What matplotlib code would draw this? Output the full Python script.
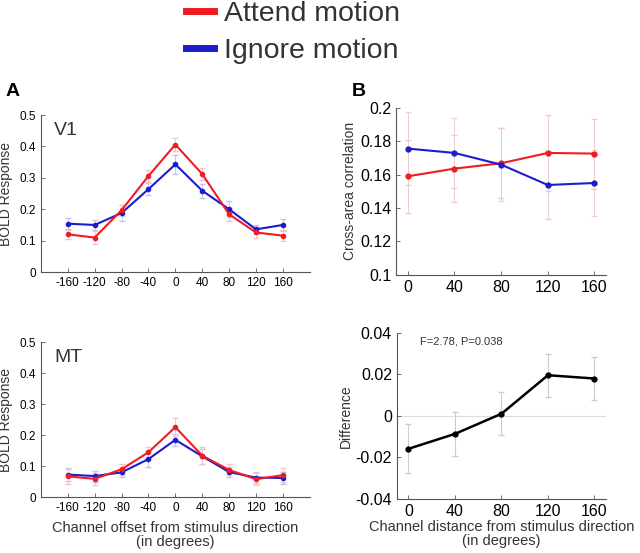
import numpy as np
import matplotlib.pyplot as plt
from matplotlib.lines import Line2D

plt.rcParams['font.family'] = ['Liberation Sans', 'DejaVu Sans']
plt.rcParams['axes.unicode_minus'] = False

# -------------------
# data
# -------------------
offsets = [-160, -120, -80, -40, 0, 40, 80, 120, 160]
v1_attend = [0.120, 0.110, 0.197, 0.306, 0.406, 0.312, 0.184, 0.126, 0.116]
v1_ignore = [0.154, 0.150, 0.188, 0.264, 0.343, 0.259, 0.200, 0.136, 0.150]
v1_attend_err = [0.015, 0.020, 0.018, 0.018, 0.020, 0.018, 0.020, 0.018, 0.018]
v1_ignore_err = [0.018, 0.015, 0.025, 0.018, 0.030, 0.022, 0.025, 0.015, 0.020]

mt_attend = [0.067, 0.059, 0.090, 0.145, 0.226, 0.134, 0.088, 0.058, 0.071]
mt_ignore = [0.073, 0.068, 0.080, 0.123, 0.185, 0.132, 0.081, 0.063, 0.062]
mt_attend_err = [0.025, 0.020, 0.018, 0.018, 0.028, 0.028, 0.018, 0.020, 0.022]
mt_ignore_err = [0.020, 0.018, 0.015, 0.025, 0.020, 0.025, 0.015, 0.018, 0.018]

distances = [0, 40, 80, 120, 160]
corr_attend = [0.159, 0.1636, 0.1668, 0.173, 0.1726]
corr_ignore = [0.1756, 0.173, 0.166, 0.1538, 0.155]
corr_attend_err = [0.022, 0.020, 0.021, 0.0225, 0.021]
corr_ignore_err = [0.022, 0.021, 0.022, 0.0205, 0.020]

diff = [-0.0159, -0.0087, 0.001, 0.0196, 0.018]
diff_err = [0.0118, 0.0107, 0.0103, 0.0104, 0.0103]

bold_ticks = [0, 0.1, 0.2, 0.3, 0.4, 0.5]
bold_ticklabels = ['0', '0.1', '0.2', '0.3', '0.4', '0.5']
corr_ticks = [0.1, 0.12, 0.14, 0.16, 0.18, 0.2]
corr_ticklabels = ['0.1', '0.12', '0.14', '0.16', '0.18', '0.2']
diff_ticks = [-0.04, -0.02, 0, 0.02, 0.04]
diff_ticklabels = ['-0.04', '-0.02', '0', '0.02', '0.04']

RED = '#ee1c24'
BLUE = '#1c1ccc'
RED_ERR = '#f7c4c6'
BLUE_ERR = '#c4c4f2'
TXT = '#333333'


def style(ax, labelsize):
    ax.spines['top'].set_visible(False)
    ax.spines['right'].set_visible(False)
    for s in ['left', 'bottom']:
        ax.spines[s].set_color('#555555')
        ax.spines[s].set_linewidth(0.8)
    ax.tick_params(direction='in', length=3, width=0.6, colors='#555555',
                   labelcolor='black', labelsize=labelsize)


fig = plt.figure(figsize=(6.4, 5.53), dpi=100)

# -------------------
# Panel A: V1 and MT tuning
# -------------------
axV1 = fig.add_axes([0.064, 0.508, 0.42, 0.284])
axMT = fig.add_axes([0.064, 0.101, 0.42, 0.280])
for ax, att, ign, att_e, ign_e, name in [
        (axV1, v1_attend, v1_ignore, v1_attend_err, v1_ignore_err, 'V1'),
        (axMT, mt_attend, mt_ignore, mt_attend_err, mt_ignore_err, 'MT')]:
    ax.errorbar(offsets, ign, yerr=ign_e, fmt='none', ecolor=BLUE_ERR,
                elinewidth=0.7, capsize=2)
    ax.errorbar(offsets, att, yerr=att_e, fmt='none', ecolor=RED_ERR,
                elinewidth=0.7, capsize=2)
    ax.plot(offsets, ign, '-o', color=BLUE, lw=1.5, ms=3)
    ax.plot(offsets, att, '-o', color=RED, lw=1.5, ms=3)
    ax.set_xlim(-200, 200)
    ax.set_ylim(0, 0.5)
    ax.set_xticks(offsets)
    ax.set_yticks(bold_ticks)
    ax.set_yticklabels(bold_ticklabels)
    ax.set_ylabel('BOLD Response', fontsize=10, color=TXT, labelpad=5)
    ax.text(-180, 0.478, name, fontsize=14, color=TXT, va='top')
    style(ax, 8.5)
axMT.set_xlabel('Channel offset from stimulus direction\n(in degrees)',
                fontsize=10.5, color=TXT, labelpad=5, linespacing=1.0)

# -------------------
# Panel B: cross-area correlation and difference
# -------------------
axC = fig.add_axes([0.619, 0.503, 0.328, 0.302])
axC.errorbar(distances, corr_ignore, yerr=corr_ignore_err, fmt='none',
             ecolor='#e8d0d4', elinewidth=0.7, capsize=2)
axC.errorbar(distances, corr_attend, yerr=corr_attend_err, fmt='none',
             ecolor='#f0c8cc', elinewidth=0.7, capsize=2)
axC.plot(distances, corr_attend, '-o', color=RED, lw=1.5, ms=3.5)
axC.plot(distances, corr_ignore, '-o', color=BLUE, lw=1.5, ms=3.5)
axC.set_xlim(-10, 170)
axC.set_ylim(0.1, 0.2)
axC.set_xticks(distances)
axC.set_yticks(corr_ticks)
axC.set_yticklabels(corr_ticklabels)
axC.set_ylabel('Cross-area correlation', fontsize=10, color=TXT, labelpad=2)
style(axC, 11.5)

axD = fig.add_axes([0.620, 0.098, 0.327, 0.300])
axD.axhline(0, color='#dddddd', lw=0.8, zorder=0)
axD.errorbar(distances, diff, yerr=diff_err, fmt='none', ecolor='#cccccc',
             elinewidth=0.8, capsize=2)
axD.plot(distances, diff, '-o', color='black', lw=1.8, ms=3.5)
axD.set_xlim(-10, 170)
axD.set_ylim(-0.04, 0.04)
axD.set_xticks(distances)
axD.set_yticks(diff_ticks)
axD.set_yticklabels(diff_ticklabels)
axD.set_ylabel('Difference', fontsize=10, color=TXT, labelpad=2)
axD.text(10, 0.036, 'F=2.78, P=0.038', fontsize=8, color=TXT, va='center')
axD.set_xlabel('Channel distance from stimulus direction\n(in degrees)',
               fontsize=10.5, color=TXT, labelpad=1, linespacing=1.0)
style(axD, 11.5)

# panel letters
fig.text(0.008, 0.826, 'A', fontsize=14, fontweight='bold')
fig.text(0.55, 0.826, 'B', fontsize=14, fontweight='bold')

# legend
handles = [Line2D([0], [0], color=RED, lw=5),
           Line2D([0], [0], color=BLUE, lw=5)]
fig.legend(handles, ['Attend motion', 'Ignore motion'], loc='upper left',
           bbox_to_anchor=(0.25, 1.045), frameon=False, fontsize=20.5,
           handlelength=1.0, handletextpad=0.35, labelspacing=0.38,
           labelcolor=TXT)

plt.savefig('out.png', dpi=100)
